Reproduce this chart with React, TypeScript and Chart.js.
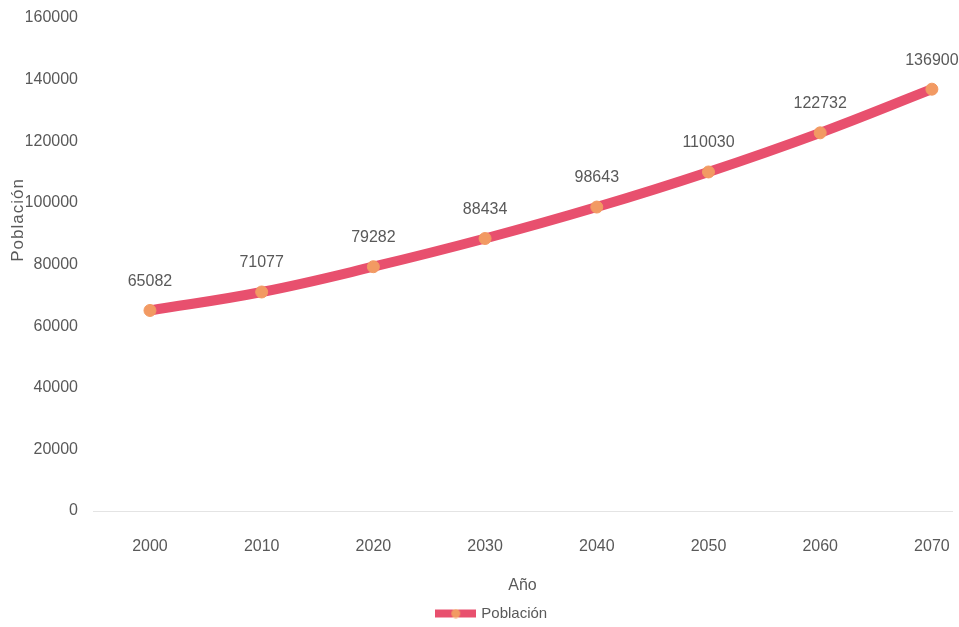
import React, { useEffect, useRef } from "react";
import { Chart, registerables } from "chart.js";

Chart.register(...registerables);

const years = [2000, 2010, 2020, 2030, 2040, 2050, 2060, 2070];
const population = [65082, 71077, 79282, 88434, 98643, 110030, 122732, 136900];
const seriesLabel = "Población";
const xTitle = "Año";
const yTitle = "Población";

const FONT = "'Liberation Sans', Arial, sans-serif";
const GREY = "#595959";
const LINE = "#e8506e";
const POINT = "#f29a63";

function makeLegendIcon(): HTMLCanvasElement {
  const c = document.createElement("canvas");
  c.width = 41;
  c.height = 10;
  const g = c.getContext("2d")!;
  g.fillStyle = LINE;
  g.fillRect(0, 1, 41, 8);
  g.fillStyle = POINT;
  g.beginPath();
  g.arc(20.5, 5, 4.5, 0, Math.PI * 2);
  g.fill();
  return c;
}

const dataLabels = {
  id: "dataLabels",
  afterDatasetsDraw(chart: any) {
    const ctx = chart.ctx;
    const meta = chart.getDatasetMeta(0);
    ctx.save();
    ctx.font = `16px ${FONT}`;
    ctx.fillStyle = GREY;
    ctx.textAlign = "center";
    ctx.textBaseline = "middle";
    meta.data.forEach((pt: any, i: number) => {
      ctx.fillText(String(population[i]), pt.x, pt.y - 29);
    });
    ctx.restore();
  },
};

const yTitlePlugin = {
  id: "yTitlePlugin",
  afterDraw(chart: any) {
    const ctx = chart.ctx;
    ctx.save();
    ctx.font = `17px ${FONT}`;
    ctx.fillStyle = GREY;
    ctx.textAlign = "center";
    ctx.textBaseline = "middle";
    try {
      (ctx as any).letterSpacing = "1px";
    } catch (e) {}
    ctx.translate(18, chart.chartArea.top + 202);
    ctx.rotate(-Math.PI / 2);
    ctx.fillText(yTitle, 0, 0);
    ctx.restore();
  },
};

export default function App() {
  const ref = useRef<HTMLCanvasElement>(null);
  useEffect(() => {
    document.body.style.margin = "0";
    document.body.style.overflow = "hidden";
    const icon = makeLegendIcon();
    const chart = new Chart(ref.current!, {
      type: "line",
      data: {
        datasets: [
          {
            label: seriesLabel,
            data: years.map((y, i) => ({ x: y, y: population[i] })),
            borderColor: LINE,
            backgroundColor: LINE,
            borderWidth: 10,
            tension: 0.4,
            pointRadius: 6,
            pointStyle: "circle",
            pointBackgroundColor: POINT,
            pointBorderColor: POINT,
            pointBorderWidth: 1,
            borderCapStyle: "round",
          },
        ],
      },
      options: {
        animation: false,
        responsive: false,
        maintainAspectRatio: false,
        layout: { padding: { top: 18, left: 26, right: 0, bottom: -4 } },
        plugins: {
          legend: {
            position: "bottom",
            labels: {
              color: GREY,
              font: { family: FONT, size: 15 },
              usePointStyle: true,
              pointStyleWidth: 36,
              boxHeight: 10,
              padding: 6,
              generateLabels: () => [
                {
                  text: seriesLabel,
                  pointStyle: icon,
                  fontColor: GREY,
                  datasetIndex: 0,
                  hidden: false,
                  lineWidth: 0,
                  strokeStyle: "rgba(0,0,0,0)",
                  fillStyle: LINE,
                },
              ],
            },
          },
          tooltip: { enabled: false },
        },
        scales: {
          x: {
            type: "linear",
            min: 1994.9,
            max: 2071.8,
            grid: {
              display: true,
              drawOnChartArea: false,
              drawTicks: true,
              tickLength: 26,
              tickColor: "rgba(0,0,0,0)",
              color: "rgba(0,0,0,0)",
            },
            border: { display: true, color: "#e4e4e4", width: 1 },
            afterBuildTicks: (s: any) => {
              s.ticks = years.map((v) => ({ value: v }));
            },
            ticks: {
              color: GREY,
              font: { family: FONT, size: 16 },
              padding: 0,
              autoSkip: false,
              maxRotation: 0,
              callback: (v: any) => String(v),
            },
            title: {
              display: true,
              text: xTitle,
              color: GREY,
              font: { family: FONT, size: 16 },
              padding: { top: 4, bottom: 5 },
            },
            afterFit: (s: any) => {
              s.height = 89;
            },
          },
          y: {
            min: 0,
            max: 160000,
            grid: {
              display: true,
              drawOnChartArea: false,
              drawTicks: true,
              tickLength: 15,
              tickColor: "rgba(0,0,0,0)",
              color: "rgba(0,0,0,0)",
            },
            border: { display: false },
            ticks: {
              stepSize: 20000,
              color: GREY,
              font: { family: FONT, size: 16 },
              padding: 0,
              callback: (v: any) => String(v),
            },
            afterFit: (s: any) => {
              s.width = 67;
            },
          },
        },
      },
      plugins: [dataLabels, yTitlePlugin],
    });
    return () => chart.destroy();
  }, []);
  return (
    <div style={{ width: 959, height: 627 }}>
      <canvas ref={ref} width={959} height={627} style={{ display: "block" }} />
    </div>
  );
}
